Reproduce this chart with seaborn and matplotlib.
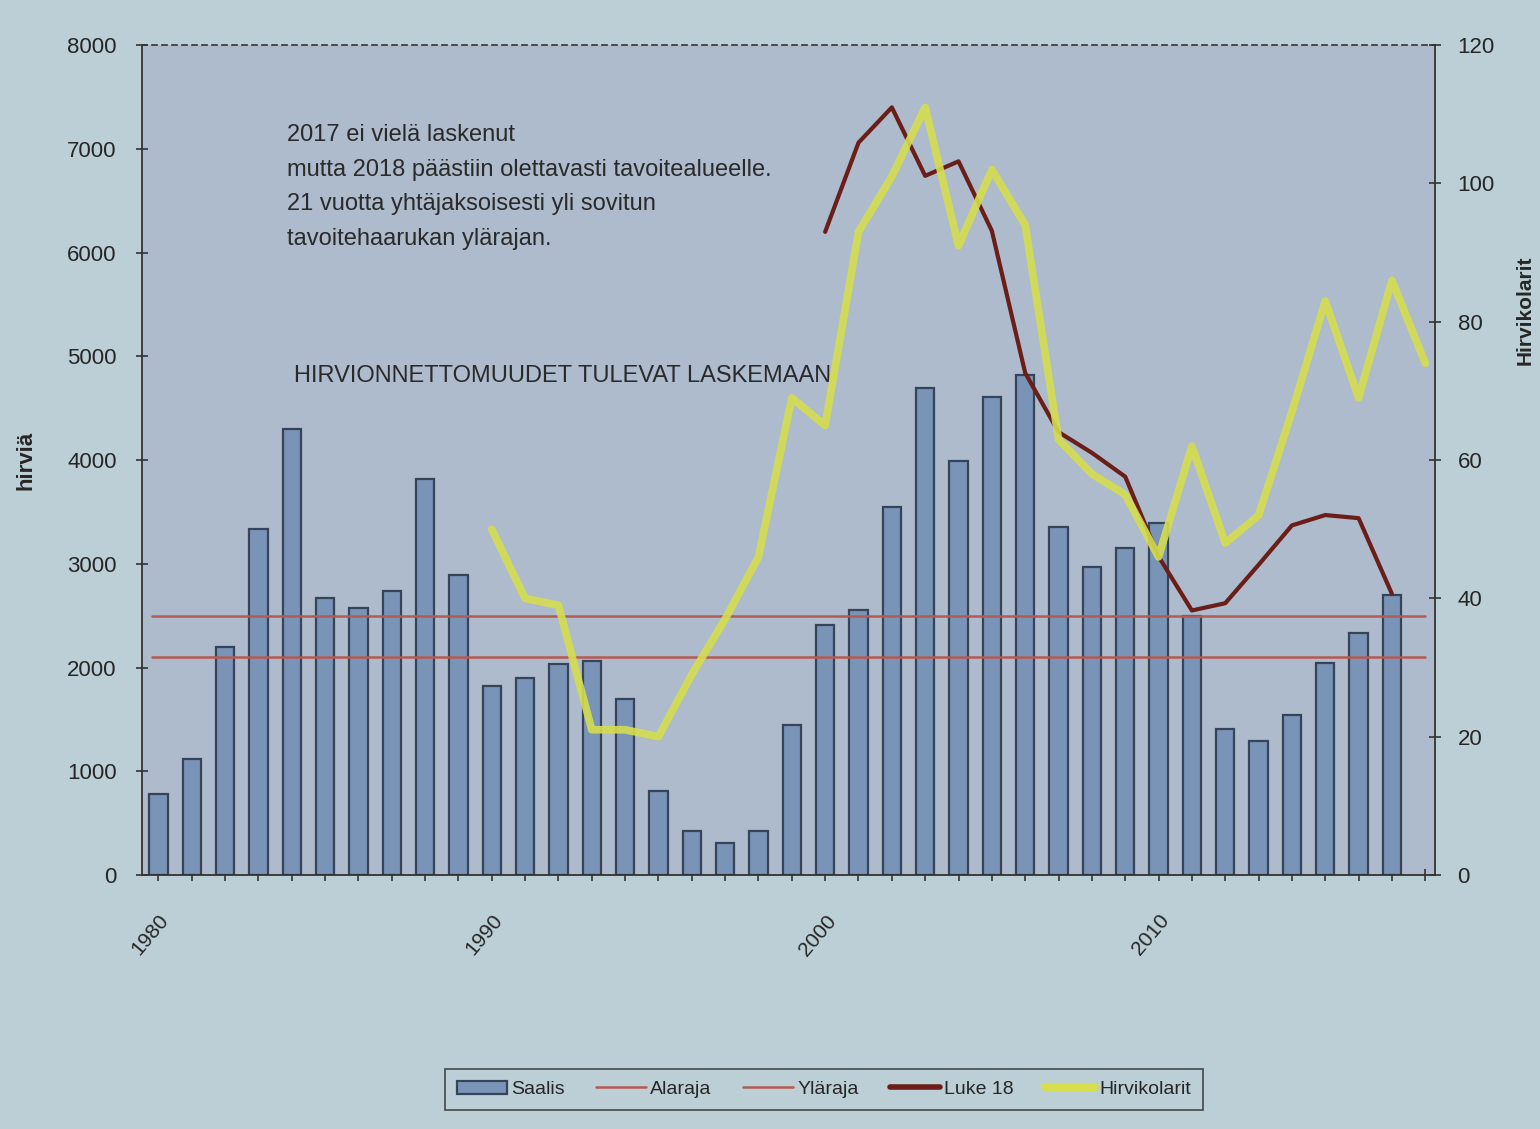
import matplotlib
matplotlib.use("Agg")
import matplotlib.pyplot as plt
import matplotlib.patches as mpatches
import matplotlib.lines as mlines
from matplotlib.ticker import MultipleLocator, FixedLocator
import seaborn as sns
import pandas as pd
import numpy as np

sns.set_theme(style="white")
plt.rcParams['font.family'] = ['Liberation Sans', 'DejaVu Sans']

years = list(range(1980, 2019))
saalis = [780, 1120, 2200, 3340, 4300, 2670, 2570, 2740, 3820, 2890,
          1820, 1900, 2030, 2060, 1700, 810, 420, 310, 420, 1450,
          2410, 2550, 3550, 4690, 3990, 4610, 4820, 3350, 2970, 3150,
          3390, 2500, 1410, 1290, 1540, 2040, 2330, 2700, np.nan]
alaraja = 2100
ylaraja = 2500
luke_years = list(range(2000, 2018))
luke18 = [6200, 7060, 7400, 6740, 6880, 6210, 4840, 4270, 4070, 3840,
          3070, 2550, 2620, 2990, 3370, 3470, 3440, 2710]
kolari_years = list(range(1990, 2019))
hirvikolarit = [50, 40, 39, 21, 21, 20, 29, 37, 46, 69,
                65, 93, 101, 111, 91, 102, 94, 63, 58, 55,
                46, 62, 48, 52, 67, 83, 69, 86, 74]

note_text = ("2017 ei vielä laskenut\n"
             "mutta 2018 päästiin olettavasti tavoitealueelle.\n"
             "21 vuotta yhtäjaksoisesti yli sovitun\n"
             "tavoitehaarukan ylärajan.")
note_text2 = "HIRVIONNETTOMUUDET TULEVAT LASKEMAAN"

bar_color = '#7a94b8'
bar_edge = '#364459'
limit_color = '#b55a50'
luke_color = '#6a1e17'
kolari_color = '#d6dd4e'
fig_bg = '#bccfd6'
ax_bg = '#adbbcc'

df_bars = pd.DataFrame({'year': years, 'saalis': saalis})
df_luke = pd.DataFrame({'year': luke_years, 'luke': luke18})
df_kol = pd.DataFrame({'year': kolari_years, 'kolarit': hirvikolarit})

fig = plt.figure(figsize=(15.4, 11.29), dpi=100)
fig.patch.set_facecolor(fig_bg)
ax = fig.add_axes([0.092, 0.225, 0.84, 0.735])
ax.set_facecolor(ax_bg)

sns.barplot(data=df_bars, x='year', y='saalis', native_scale=True, ax=ax,
            color=bar_color, width=0.55, edgecolor=bar_edge, linewidth=1.6,
            saturation=1)
ax.plot([1979.8, 2018.0], [alaraja, alaraja], color=limit_color, lw=1.8)
ax.plot([1979.8, 2018.0], [ylaraja, ylaraja], color=limit_color, lw=1.8)
sns.lineplot(data=df_luke, x='year', y='luke', ax=ax, color=luke_color, lw=3)

ax.set_xlim(1979.5, 2018.3)
ax.set_ylim(0, 8000)
ax.yaxis.set_major_locator(MultipleLocator(1000))
ax.xaxis.set_major_locator(FixedLocator([1980, 1990, 2000, 2010]))
ax.xaxis.set_minor_locator(MultipleLocator(1))
ax.set_xticklabels(['1980', '1990', '2000', '2010'], rotation=50,
                   ha='right', va='top', rotation_mode='anchor', fontsize=15)
ax.tick_params(axis='x', which='both', direction='inout', length=8,
               width=1.2, color='#333333', bottom=True, pad=22)
ax.tick_params(axis='y', direction='inout', length=8, width=1.2,
               color='#333333', left=True, labelsize=16, pad=14)
ax.set_xlabel('')
ax.set_ylabel('hirviä', fontsize=16, fontweight='bold', labelpad=22)

for side in ['left', 'bottom', 'right']:
    ax.spines[side].set_color('#333333')
    ax.spines[side].set_linewidth(1.3)
ax.spines['top'].set_linestyle((0, (3, 3)))
ax.spines['top'].set_color('#333333')
ax.spines['top'].set_linewidth(1.2)

ax2 = ax.twinx()
sns.lineplot(data=df_kol, x='year', y='kolarit', ax=ax2, color=kolari_color,
             lw=5.5, alpha=0.9)
ax2.set_ylim(0, 120)
ax2.yaxis.set_major_locator(MultipleLocator(20))
ax2.tick_params(axis='y', direction='inout', length=8, width=1.2,
                color='#333333', right=True, labelsize=16, pad=12)
ax2.set_ylabel('Hirvikolarit', fontsize=15, fontweight='bold')
ax2.yaxis.set_label_coords(1.062, 0.68)
for side in ['left', 'bottom', 'right', 'top']:
    ax2.spines[side].set_visible(False)
ax2.set_xlim(1979.5, 2018.3)

note_font = ['Liberation Sans Narrow', 'Liberation Sans', 'DejaVu Sans']
ax.text(0.112, 0.905, note_text, transform=ax.transAxes, fontsize=17,
        family=note_font, color='#2a2a2a', va='top', ha='left',
        linespacing=1.75)
ax.text(0.118, 0.615, note_text2, transform=ax.transAxes, fontsize=17,
        family=note_font, color='#2a2a2a', va='top', ha='left')

handles = [
    mpatches.Patch(facecolor=bar_color, edgecolor=bar_edge, linewidth=1.6, label='Saalis'),
    mlines.Line2D([], [], color=limit_color, lw=1.8, label='Alaraja'),
    mlines.Line2D([], [], color=limit_color, lw=1.8, label='Yläraja'),
    mlines.Line2D([], [], color=luke_color, lw=4, label='Luke 18'),
    mlines.Line2D([], [], color=kolari_color, lw=6, label='Hirvikolarit'),
]
leg = fig.legend(handles=handles, loc='center', bbox_to_anchor=(0.535, 0.035),
                 ncol=5, fontsize=14, frameon=True, fancybox=False,
                 handlelength=2.6, handletextpad=0.2, columnspacing=1.6,
                 borderpad=0.6)
leg.get_frame().set_edgecolor('#333333')
leg.get_frame().set_linewidth(1.3)
leg.get_frame().set_facecolor(fig_bg)

fig.savefig('out.png', dpi=100, facecolor=fig.get_facecolor())
